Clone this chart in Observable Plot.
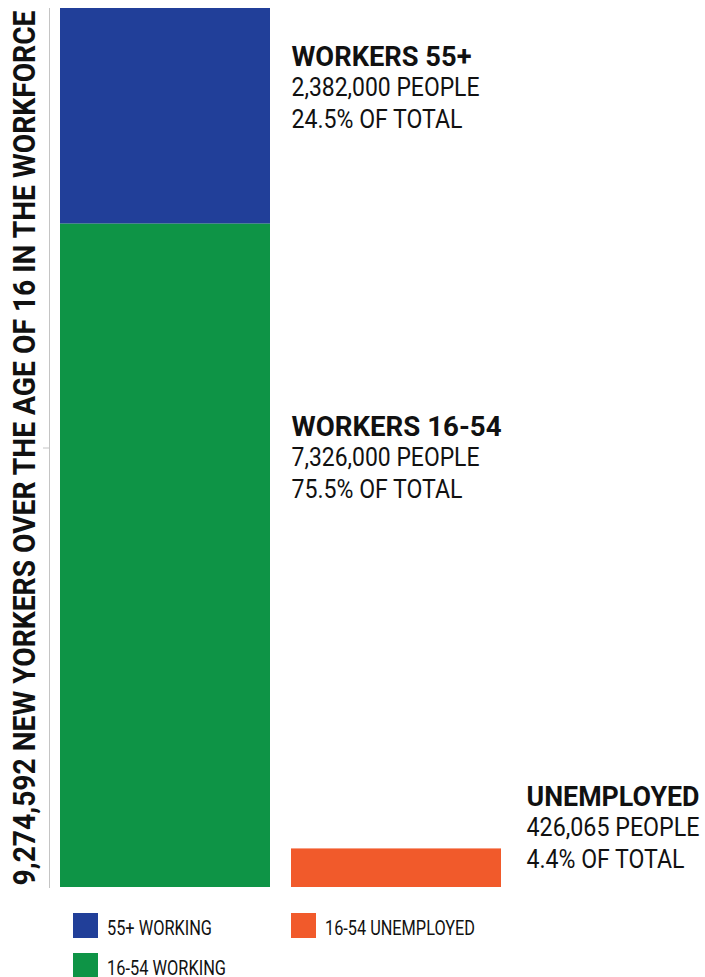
<!DOCTYPE html>
<html><head><meta charset="utf-8">
<script src="https://cdn.jsdelivr.net/npm/d3@7"></script>
<script src="https://cdn.jsdelivr.net/npm/@observablehq/plot@0.6"></script>
<style>body{margin:0;background:#fff;font-family:Roboto, sans-serif}</style>
</head><body><div id="chart"></div>
<script>
// ---- data ----
const categories = ["55+ WORKING", "16-54 WORKING", "16-54 UNEMPLOYED"];
const groups = ["Working", "Working", "Unemployed"];
const people = [2382000, 7326000, 426065];
const shares = ["24.5%", "75.5%", "4.4%"];
const labelTitles = ["WORKERS 55+", "WORKERS 16-54", "UNEMPLOYED"];
const colors = ["#213f99", "#0e9446", "#f15a2b"];
const groupOrder = ["Working", "Unemployed"];
const workforceTotal = 9274592;

// ---- derived ----
const rows = categories.map((c, i) => ({category: c, group: groups[i], people: people[i], share: shares[i], title: labelTitles[i]}));
const yMax = people[0] + people[1];
const fmt = d3.format(",");
const titleText = `${fmt(workforceTotal)} NEW YORKERS OVER THE AGE OF 16 IN THE WORKFORCE`;
const peopleText = d => `${fmt(d.people)} PEOPLE`;
const shareText = d => `${d.share} OF TOTAL`;

// label layout (code, not data)
const labelAnchors = [yMax, yMax / 2, 0];
const labelOffsets = [38.7, -30.8, -100.3];
const labelDx = [-105, -105, 130];
const titleWidths = [180, 210, 173];
const peopleWidths = [188, 188, 173];
const shareWidths = [171, 171, 158];
const legendWidths = [105, 119, 150];

const marks = [
  Plot.barY(rows, Plot.stackY({x: "group", y: "people", fill: "category", reverse: true})),
  Plot.text([titleText], {
    text: d => d, frameAnchor: "bottom-left", rotate: -90, lineAnchor: "top", textAnchor: "start",
    dx: -37.3, dy: -2, fontSize: 32, fontWeight: 700, fill: "#111"
  })
];
rows.forEach((r, i) => {
  const base = {x: () => "Unemployed", y: () => labelAnchors[i], textAnchor: "start", lineAnchor: "top", dx: labelDx[i], fill: "#111"};
  marks.push(Plot.text([r], {...base, text: "title", dy: labelOffsets[i], fontSize: 27, fontWeight: 700}));
  marks.push(Plot.text([r], {...base, text: peopleText, dy: labelOffsets[i] + 31, fontSize: 25, fontWeight: 400}));
  marks.push(Plot.text([r], {...base, text: shareText, dy: labelOffsets[i] + 62.6, fontSize: 25, fontWeight: 400}));
});

const plot = Plot.plot({
  width: 705, height: 890,
  marginTop: 8, marginBottom: 3, marginLeft: 49, marginRight: 203,
  x: {domain: groupOrder, paddingInner: 0.09, paddingOuter: 0, insetLeft: 11, axis: null},
  y: {domain: [0, yMax], ticks: [yMax / 2], tickSize: 6, tickFormat: () => "", label: null, line: true},
  color: {domain: categories, range: colors},
  style: {fontFamily: "Roboto, sans-serif", background: "#fff", overflow: "visible", color: "#c4c4c4"},
  marks
});

// fit text widths to the reference's condensed type
const widths = new Map([[titleText, 875]]);
rows.forEach((r, i) => {
  widths.set(r.title, titleWidths[i]);
  widths.set(peopleText(r), peopleWidths[i]);
  widths.set(shareText(r), shareWidths[i]);
});
plot.querySelectorAll("text").forEach(t => {
  const w = widths.get(t.textContent.trim());
  if (w) { t.setAttribute("textLength", w); t.setAttribute("lengthAdjust", "spacingAndGlyphs"); }
});
document.getElementById("chart").appendChild(plot);

// legend
const leg = d3.create("svg").attr("width", 705).attr("height", 87).style("display", "block")
  .style("font-family", "Roboto, sans-serif");
categories.forEach((c, i) => {
  const col = Math.floor(i / 2), row = i % 2;
  const g = leg.append("g").attr("transform", `translate(${73 + col * 218},${23 + row * 40})`);
  g.append("rect").attr("width", 25).attr("height", 25).attr("fill", colors[i]);
  g.append("text").attr("x", 34).attr("y", 22).attr("font-size", 21).attr("fill", "#111")
    .attr("textLength", legendWidths[i]).attr("lengthAdjust", "spacingAndGlyphs").text(c);
});
document.getElementById("chart").appendChild(leg.node());
</script>
</body></html>
